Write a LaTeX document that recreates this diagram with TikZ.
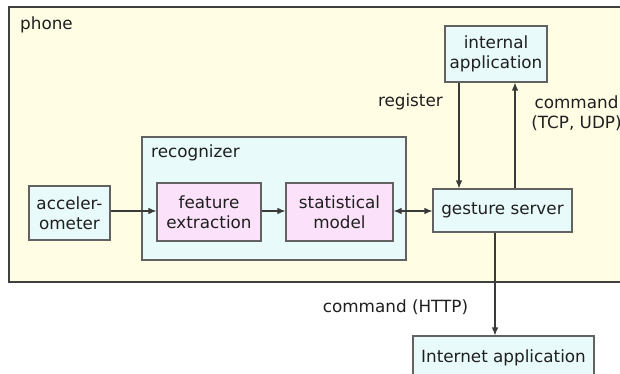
\documentclass[tikz,border=0pt]{standalone}
\usepackage{fontspec}
\setmainfont{DejaVu Sans}
\usetikzlibrary{arrows.meta}
\definecolor{phonebg}{HTML}{FFFDE4}
\definecolor{cyanbg}{HTML}{E8FBFA}
\definecolor{pinkbg}{HTML}{FBE2FA}
\definecolor{edgec}{HTML}{626262}
\definecolor{linec}{HTML}{3A3A3A}
\begin{document}
\begin{tikzpicture}[x=1pt,y=-1pt,
  font=\fontsize{16.8}{20.5}\selectfont,
  txt/.style={text=black!88, inner sep=0pt},
  bluebox/.style={draw=edgec, line width=1.1pt, fill=cyanbg, align=center, inner sep=0pt, text=black!88},
  pinkbox/.style={bluebox, fill=pinkbg},
  tip/.tip={Latex[length=8pt,width=6.5pt]},
  conn/.style={draw=linec, line width=1.1pt, -tip},
  biconn/.style={draw=linec, line width=1.1pt, tip-tip}]
\useasboundingbox (0,0) rectangle (620,374);
\begin{scope}
\clip (0,0) rectangle (620,374);
\fill[white] (0,0) rectangle (620,374);
% phone frame
\draw[draw=black!75, line width=1.1pt, fill=phonebg] (9,7) rectangle (650,282);
\node[txt, anchor=west] (phonelbl) at (20,25) {phone};
% recognizer
\node[bluebox, minimum width=264pt, minimum height=123pt] (rec) at (274,198.5) {};
\node[txt, anchor=west] (reclbl) at (151,153) {recognizer};
% boxes
\node[bluebox, minimum width=81pt, minimum height=54pt] (acc) at (69.5,213) {acceler-\\ometer};
\node[pinkbox, minimum width=104pt, minimum height=58pt] (feat) at (209,212) {feature\\extraction};
\node[pinkbox, minimum width=107pt, minimum height=58pt] (stat) at (339.5,212) {statistical\\model};
\node[bluebox, minimum width=139pt, minimum height=43pt] (gs) at (502.5,210.5) {gesture server};
\node[bluebox, minimum width=102pt, minimum height=56pt] (ia) at (496,54) {internal\\application};
\node[bluebox, minimum width=181pt, minimum height=44pt] (net) at (503.5,358) {Internet application};
% connectors
\draw[conn] (acc.east |- 0,211) -- (feat.west |- 0,211);
\draw[conn] (feat.east |- 0,211) -- (stat.west |- 0,211);
\draw[biconn] (stat.east |- 0,211) -- (gs.west |- 0,211);
\draw[conn] (ia.south -| 459,0) -- (gs.north -| 459,0);
\draw[conn] (gs.north -| 515,0) -- (ia.south -| 515,0);
\draw[conn] (gs.south -| 495,0) -- (net.north -| 495,0);
% labels
\node[txt, anchor=east] (reglbl) at (443,102) {register};
\node[txt, align=center] (cmdlbl) at (576.5,113) {command\\(TCP, UDP)};
\node[txt] (httplbl) at (395.5,307) {command (HTTP)};
\end{scope}
\end{tikzpicture}
\end{document}
